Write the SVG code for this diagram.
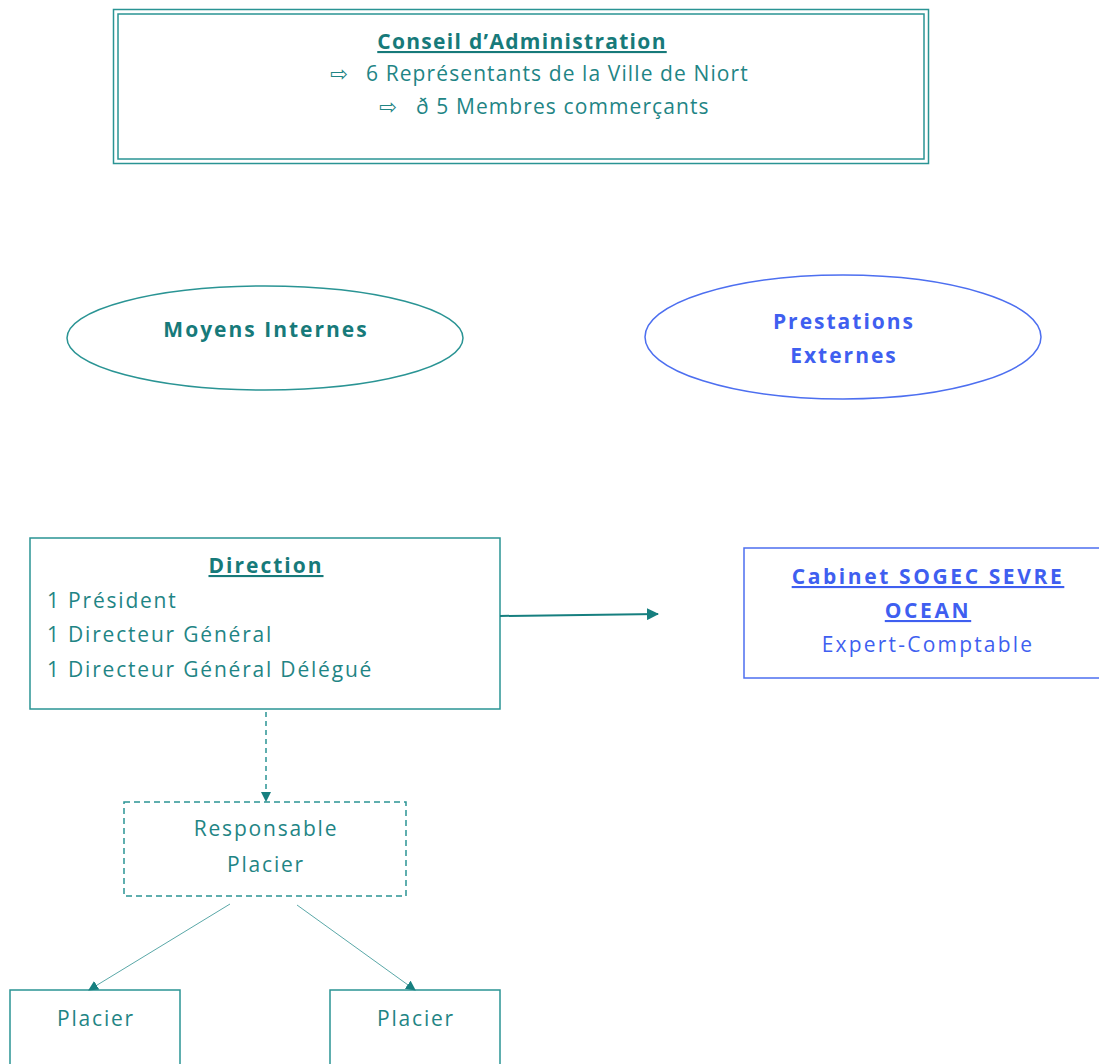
<svg xmlns="http://www.w3.org/2000/svg" width="1099" height="1064" viewBox="0 0 1099 1064">
<style>
text{font-family:"Open Sans","DejaVu Sans",sans-serif;}
.t{fill:#1f8585;font-size:21px;letter-spacing:1.8px;}
.tb{fill:#177a7a;font-size:21px;font-weight:bold;letter-spacing:2px;}
.b{fill:#3f5ff0;font-size:21px;letter-spacing:2.2px;}
.bb{fill:#3f5ff0;font-size:21px;font-weight:bold;letter-spacing:2.6px;}
.ts{fill:none;stroke:#2a9494;stroke-width:1.5;}
.bs{fill:none;stroke:#4d6ff0;stroke-width:1.5;}
</style>
<defs>
<marker id="ah" markerWidth="10" markerHeight="10" refX="9" refY="5" orient="auto" markerUnits="userSpaceOnUse">
<path d="M0,0 L10,5 L0,10 z" fill="#167f7f"/>
</marker>
<marker id="ah2" markerWidth="12" markerHeight="12" refX="11" refY="6" orient="auto" markerUnits="userSpaceOnUse">
<path d="M0,0 L12,6 L0,12 z" fill="#167f7f"/>
</marker>
</defs>
<g id="conseil">
<rect x="113.5" y="9.5" width="815" height="154" class="ts" stroke-width="2"/>
<rect x="118" y="14" width="806" height="145" class="ts"/>
<text x="522" y="49" class="tb" text-anchor="middle" font-size="22" style="letter-spacing:1.3px" text-decoration="underline">Conseil d’Administration</text>
<text x="330" y="81" class="t" font-size="15" style="letter-spacing:0">⇨</text>
<text x="366" y="81" class="t" style="letter-spacing:1.1px">6 Représentants de la Ville de Niort</text>
<text x="379" y="114" class="t" font-size="15" style="letter-spacing:0">⇨</text>
<text x="416" y="114" class="t" style="letter-spacing:1.1px">ð 5 Membres commerçants</text>
</g>
<g id="moyens">
<ellipse cx="265" cy="338" rx="198" ry="52" class="ts"/>
<text x="266" y="337" class="tb" text-anchor="middle">Moyens Internes</text>
</g>
<g id="prestations">
<ellipse cx="843" cy="337" rx="198" ry="62" class="bs"/>
<text x="844" y="329" class="bb" text-anchor="middle" style="letter-spacing:2px">Prestations</text>
<text x="844" y="363" class="bb" text-anchor="middle" style="letter-spacing:2px">Externes</text>
</g>
<g id="direction">
<rect x="30" y="538" width="470" height="171" class="ts"/>
<text x="266" y="573" class="tb" text-anchor="middle" text-decoration="underline">Direction</text>
<text x="47" y="608" class="t">1 Président</text>
<text x="47" y="642" class="t">1 Directeur Général</text>
<text x="47" y="677" class="t">1 Directeur Général Délégué</text>
</g>
<g id="cabinet">
<rect x="744" y="548" width="360" height="130" class="bs"/>
<text x="928" y="584" class="bb" text-anchor="middle" text-decoration="underline">Cabinet SOGEC SEVRE</text>
<text x="928" y="618" class="bb" text-anchor="middle" text-decoration="underline">OCEAN</text>
<text x="928" y="652" class="b" text-anchor="middle">Expert-Comptable</text>
</g>
<g id="responsable">
<rect x="124" y="802" width="282" height="94" class="ts" stroke-dasharray="6,4"/>
<text x="266" y="836" class="t" text-anchor="middle">Responsable</text>
<text x="266" y="872" class="t" text-anchor="middle">Placier</text>
</g>
<g id="placier1">
<rect x="10" y="990" width="170" height="90" class="ts"/>
<text x="96" y="1026" class="t" text-anchor="middle">Placier</text>
</g>
<g id="placier2">
<rect x="330" y="990" width="170" height="90" class="ts"/>
<text x="416" y="1026" class="t" text-anchor="middle">Placier</text>
</g>
<g id="connectors">
<line x1="500" y1="616" x2="658" y2="614" stroke="#167f7f" stroke-width="2" marker-end="url(#ah2)"/>
<line x1="266" y1="712" x2="266" y2="801" stroke="#2a9494" stroke-width="1.5" stroke-dasharray="5,4" marker-end="url(#ah)"/>
<line x1="230" y1="904" x2="89" y2="990" stroke="#5aa8a8" stroke-width="1" marker-end="url(#ah)"/>
<line x1="297" y1="905" x2="415" y2="990" stroke="#5aa8a8" stroke-width="1" marker-end="url(#ah)"/>
</g>
</svg>
